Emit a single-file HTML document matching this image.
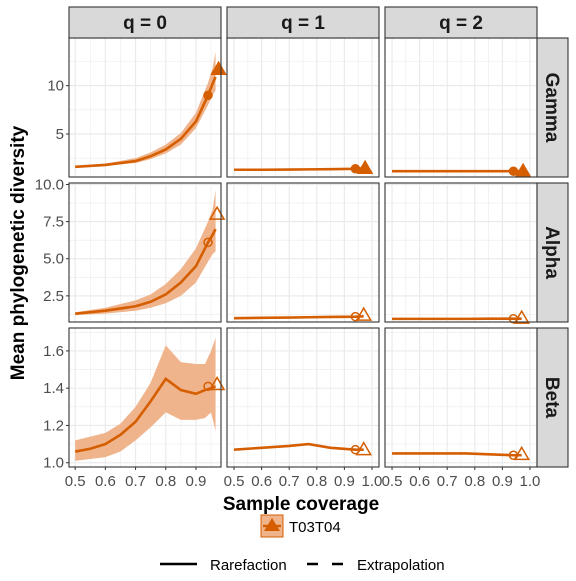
<!DOCTYPE html>
<html><head><meta charset="utf-8"><style>
body{margin:0;background:#fff}
svg text{font-family:"Liberation Sans",Arial,sans-serif}
</style></head><body>
<svg id="c" width="576" height="576" xmlns="http://www.w3.org/2000/svg"></svg>
<script>
// ---- data ----
const qLabels = ["q = 0","q = 1","q = 2"];
const rowLabels = ["Gamma","Alpha","Beta"];
const covG0 = [0.5,0.6,0.7,0.75,0.8,0.85,0.9,0.94,0.955,0.965];
const yG0 = [1.6,1.8,2.2,2.7,3.4,4.5,6.3,9.0,10.2,10.9];
const loG0 = [1.5,1.7,2.0,2.4,3.0,3.9,5.6,8.0,9.0,9.5];
const hiG0 = [1.7,1.95,2.5,3.1,3.9,5.1,7.2,10.3,11.8,13.5];
const covA0 = [0.5,0.6,0.7,0.75,0.8,0.85,0.9,0.94,0.955,0.965];
const yA0 = [1.3,1.5,1.8,2.1,2.6,3.4,4.5,6.1,6.6,7.0];
const loA0 = [1.2,1.3,1.5,1.7,2.0,2.5,3.4,4.8,5.3,5.5];
const hiA0 = [1.4,1.7,2.2,2.6,3.3,4.3,5.7,7.5,8.3,9.6];
const covB0 = [0.5,0.55,0.6,0.65,0.7,0.75,0.8,0.85,0.9,0.93,0.95,0.965];
const yB0 = [1.06,1.075,1.10,1.15,1.22,1.33,1.45,1.39,1.37,1.39,1.40,1.41];
const loB0 = [1.01,1.02,1.03,1.06,1.12,1.19,1.27,1.23,1.23,1.24,1.27,1.17];
const hiB0 = [1.12,1.14,1.16,1.21,1.30,1.43,1.63,1.54,1.53,1.53,1.60,1.67];
const covFlat = [0.5,0.6,0.7,0.77,0.85,0.94,0.97];
const yG1 = [1.3,1.3,1.32,1.34,1.36,1.4,1.45];
const yG2 = [1.15,1.15,1.15,1.15,1.15,1.15,1.15];
const yA1 = [1.0,1.02,1.04,1.06,1.08,1.1,1.12];
const yA2 = [0.95,0.95,0.95,0.95,0.96,0.96,0.96];
const yB1 = [1.07,1.08,1.09,1.10,1.08,1.07,1.07];
const yB2 = [1.05,1.05,1.05,1.05,1.045,1.04,1.04];
const obsX = [0.94,0.94,0.94];
const extX = [0.975,0.97,0.97];
const obsY = [[9.0,1.4,1.15],[6.1,1.1,0.96],[1.41,1.07,1.04]];
const extY = [[11.7,1.45,1.15],[8.0,1.2,1.0],[1.42,1.07,1.045]];
const yTicks = [[5,10],[2.5,5.0,7.5,10.0],[1.0,1.2,1.4,1.6]];
const yTickLabels = [["5","10"],["2.5","5.0","7.5","10.0"],["1.0","1.2","1.4","1.6"]];
const yDomains = [[0.55,14.93],[0.74,10.1],[0.977,1.723]];
const xTicks = [0.5,0.6,0.7,0.8,0.9,1.0];
const xDomains = [[0.4795,0.983],[0.4745,1.0255],[0.4745,1.0255]];

// ---- layout ----
const svg=document.getElementById('c');
const NS='http://www.w3.org/2000/svg';
const colX=[69,227,385], pw=152, rowY=[38,183,328], ph=139;
const col='#D55E00', band='#F0B48C';
function el(t,a,p){const e=document.createElementNS(NS,t);for(const k in a)e.setAttribute(k,a[k]);(p||svg).appendChild(e);return e;}
function xs(c,v){const d=xDomains[c];return colX[c]+(v-d[0])/(d[1]-d[0])*pw;}
function ys(r,v){const d=yDomains[r];return rowY[r]+ph-(v-d[0])/(d[1]-d[0])*ph;}
const series=[[[covG0,yG0,loG0,hiG0],[covFlat,yG1],[covFlat,yG2]],
              [[covA0,yA0,loA0,hiA0],[covFlat,yA1],[covFlat,yA2]],
              [[covB0,yB0,loB0,hiB0],[covFlat,yB1],[covFlat,yB2]]];
const rowNames=['gamma','alpha','beta'];
for(let r=0;r<3;r++)for(let c=0;c<3;c++){
  const g=el('g',{});
  
  
  const x0=colX[c],y0=rowY[r];
  el('rect',{x:x0,y:y0,width:pw,height:ph,fill:'#fff'},g);
  for(let k=9;k<=21;k++){const v=k*0.05;const px=xs(c,v);if(px>x0&&px<x0+pw)el('line',{x1:px,x2:px,y1:y0,y2:y0+ph,stroke:'#ebebeb','stroke-width':k%2===0?1.2:0.6},g);}
  const yt=yTicks[r],step=yt[1]-yt[0];
  for(let k=-4;k<=2*yt.length+4;k++){const v=yt[0]+k*step/2;const py=ys(r,v);if(py>y0&&py<y0+ph)el('line',{x1:x0,x2:x0+pw,y1:py,y2:py,stroke:'#ebebeb','stroke-width':k%2===0?1.2:0.6},g);}
  const s=series[r][c];
  if(s[2]){
    let pts=s[0].map((x,i)=>xs(c,x)+','+ys(r,s[3][i]));
    pts=pts.concat(s[0].map((x,i)=>xs(c,x)+','+ys(r,s[2][i])).reverse());
    const b=el('polygon',{points:pts.join(' '),fill:band},g);
    
    
  }
  const ln=el('polyline',{points:s[0].map((x,i)=>xs(c,x)+','+ys(r,s[1][i])).join(' '),fill:'none',stroke:col,'stroke-width':2.6},g);
  
  
  const ox=xs(c,obsX[r]),oy=ys(r,obsY[r][c]);
  const filled=r===0;
  const op=el('circle',{cx:ox,cy:oy,r:4,fill:filled?col:'none',stroke:col,'stroke-width':1.5},g);
  
  
  const tx=xs(c,extX[r]),ty=ys(r,extY[r][c]);
  const tp=el('polygon',{points:`${tx-7},${ty+5} ${tx+7},${ty+5} ${tx},${ty-7}`,fill:filled?col:'none',stroke:col,'stroke-width':1.5},g);
  
  
  el('rect',{x:x0,y:y0,width:pw,height:ph,fill:'none',stroke:'#333','stroke-width':1.1},g);
  if(c===0){yt.forEach((v,i)=>{const py=ys(r,v);el('line',{x1:x0-3,x2:x0,y1:py,y2:py,stroke:'#333'},g);
    const t=el('text',{x:x0-5,y:py+5,'text-anchor':'end','font-size':15,fill:'#4d4d4d'},g);t.textContent=yTickLabels[r][i];
    });}
  if(r===2){xTicks.forEach(v=>{const px=xs(c,v);if(px<x0||px>x0+pw)return;el('line',{x1:px,x2:px,y1:y0+ph,y2:y0+ph+3,stroke:'#333'},g);
    const t=el('text',{x:px,y:y0+ph+19,'text-anchor':'middle','font-size':15,fill:'#4d4d4d'},g);t.textContent=v.toFixed(1);
    });}
}
for(let c=0;c<3;c++){
  const s=el('rect',{x:colX[c],y:7,width:pw,height:31,fill:'#d9d9d9',stroke:'#333','stroke-width':1.1});
  
  const t=el('text',{x:colX[c]+pw/2,y:29,'text-anchor':'middle','font-size':19,'font-weight':'bold',fill:'#1a1a1a'});t.textContent=qLabels[c];
  
}
for(let r=0;r<3;r++){
  const s=el('rect',{x:537,y:rowY[r],width:31,height:ph,fill:'#d9d9d9',stroke:'#333','stroke-width':1.1});
  
  const cy=rowY[r]+ph/2;
  const t=el('text',{x:546,y:cy,'text-anchor':'middle','font-size':19,'font-weight':'bold',fill:'#1a1a1a',transform:`rotate(90 546 ${cy})`});t.textContent=rowLabels[r];
  
}
let t=el('text',{x:301,y:510,'text-anchor':'middle','font-size':19,'font-weight':'bold',fill:'#000'});t.textContent='Sample coverage';

t=el('text',{x:24,y:253,'text-anchor':'middle','font-size':19,'font-weight':'bold',fill:'#000',transform:'rotate(-90 24 253)'});t.textContent='Mean phylogenetic diversity';

const lg=el('g',{});
el('rect',{x:261,y:515,width:22,height:22,fill:band,stroke:col,'stroke-width':1},lg);
el('polygon',{points:'264,531 280,531 272,518',fill:col},lg);
el('line',{x1:263,x2:281,y1:526,y2:526,stroke:col,'stroke-width':2.5},lg);
t=el('text',{x:289,y:532,'font-size':15,fill:'#000'},lg);t.textContent='T03T04';
const l2=el('g',{});
el('line',{x1:160,x2:197,y1:564,y2:564,stroke:'#000','stroke-width':2.5},l2);
t=el('text',{x:210,y:570,'font-size':15,fill:'#000'},l2);t.textContent='Rarefaction';
el('line',{x1:307,x2:345,y1:564,y2:564,stroke:'#000','stroke-width':2.5,'stroke-dasharray':'11,14'},l2);
t=el('text',{x:357,y:570,'font-size':15,fill:'#000'},l2);t.textContent='Extrapolation';
</script>
</body></html>
